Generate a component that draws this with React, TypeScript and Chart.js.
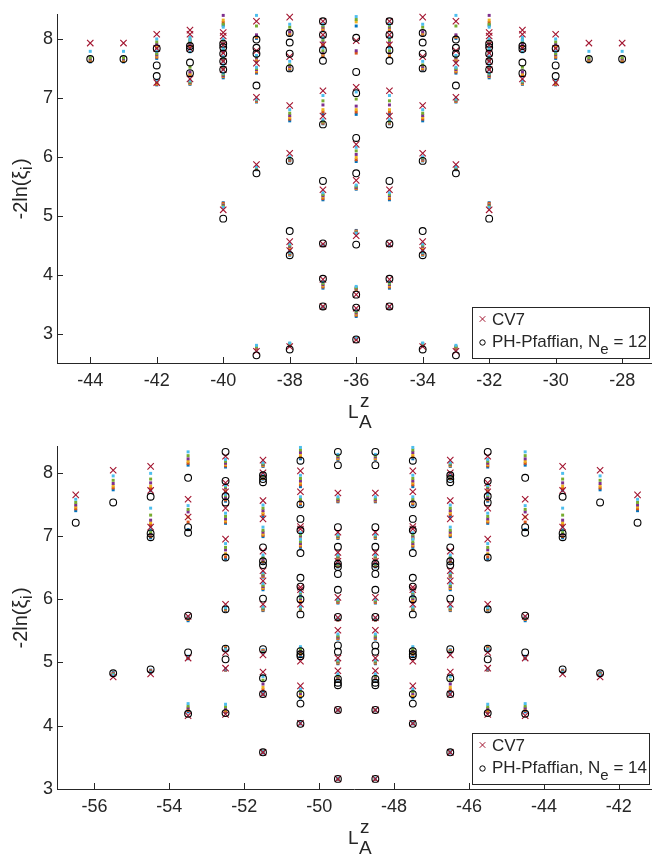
import React, { useEffect, useRef } from 'react';
import { Chart, registerables } from 'chart.js';
Chart.register(...registerables);

const FONT = '"Liberation Sans", Arial, Helvetica, sans-serif';
const AX = '#262626';

// ---------- top panel (N_e = 12) ----------
const topCols = [-44, -43, -42, -41, -40, -39, -38, -37, -36, -35, -34, -33, -32, -31, -30, -29, -28];
const topXTicks = [-44, -42, -40, -38, -36, -34, -32, -30, -28];
const topYTicks = [3, 4, 5, 6, 7, 8];
const topCV7 = [
  [7.93],
  [7.93],
  [8.08, 7.84, 7.26],
  [8.15, 8.08, 7.84, 7.32],
  [8.11, 8.05, 7.90, 7.76, 7.62, 7.48, 5.10],
  [8.30, 7.80, 7.59, 7.01, 5.87, 2.70],
  [8.37, 7.70, 6.87, 6.06, 4.56, 4.41, 2.78],
  [8.30, 8.07, 7.90, 7.12, 6.69, 5.44, 4.52, 3.92, 3.46],
  [7.97, 7.18, 6.21, 5.60, 4.66, 3.66, 3.43, 2.89],
  [8.30, 8.07, 7.90, 7.12, 6.69, 5.44, 4.52, 3.92, 3.46],
  [8.37, 7.70, 6.87, 6.06, 4.56, 4.41, 2.78],
  [8.30, 7.80, 7.59, 7.01, 5.87, 2.70],
  [8.11, 8.05, 7.90, 7.76, 7.62, 7.48, 5.10],
  [8.15, 8.08, 7.84, 7.32],
  [8.08, 7.84, 7.26],
  [7.93],
  [7.93],
];
const topPH = [
  [7.66],
  [7.66],
  [7.84, 7.55, 7.37],
  [7.88, 7.83, 7.60, 7.42],
  [7.92, 7.86, 7.75, 7.62, 7.48, 4.95],
  [7.99, 7.85, 7.75, 7.21, 5.72, 2.63],
  [8.10, 7.94, 7.75, 7.50, 5.93, 4.74, 4.33, 2.73],
  [8.30, 8.07, 7.81, 7.63, 6.55, 5.59, 4.53, 3.93, 3.46],
  [8.02, 7.44, 7.08, 6.32, 5.72, 4.51, 3.66, 3.44, 2.90],
  [8.30, 8.07, 7.81, 7.63, 6.55, 5.59, 4.53, 3.93, 3.46],
  [8.10, 7.94, 7.75, 7.50, 5.93, 4.74, 4.33, 2.73],
  [7.99, 7.85, 7.75, 7.21, 5.72, 2.63],
  [7.92, 7.86, 7.75, 7.62, 7.48, 4.95],
  [7.88, 7.83, 7.60, 7.42],
  [7.84, 7.55, 7.37],
  [7.66],
  [7.66],
];
const topCyan = [
  [7.79],
  [7.79],
  [8.00, 7.79, 7.30],
  [8.03, 7.98, 7.78, 7.29],
  [8.20, 8.00, 7.84, 7.70, 7.56, 7.42, 5.14],
  [8.40, 7.72, 7.52, 6.98, 5.83, 2.80],
  [8.25, 7.62, 6.80, 6.00, 4.52, 4.38, 2.84],
  [8.25, 8.02, 7.85, 7.04, 6.63, 5.39, 4.51, 3.88, 3.45],
  [8.38, 7.10, 6.16, 5.52, 4.70, 3.80, 3.40, 2.92],
  [8.25, 8.02, 7.85, 7.04, 6.63, 5.39, 4.51, 3.88, 3.45],
  [8.25, 7.62, 6.80, 6.00, 4.52, 4.38, 2.84],
  [8.40, 7.72, 7.52, 6.98, 5.83, 2.80],
  [8.20, 8.00, 7.84, 7.70, 7.56, 7.42, 5.14],
  [8.03, 7.98, 7.78, 7.29],
  [8.00, 7.79, 7.30],
  [7.79],
  [7.79],
];
const topGreen = [
  [7.68],
  [7.68],
  [7.95, 7.75, 7.28],
  [8.00, 7.95, 7.52, 7.27],
  [8.25, 7.98, 7.82, 7.68, 7.54, 7.40, 5.16],
  [8.22, 7.70, 7.50, 6.97, 5.82, 2.78],
  [8.20, 7.56, 6.74, 5.98, 4.50, 4.37, 2.83],
  [8.22, 7.98, 7.80, 6.95, 6.60, 5.36, 4.51, 3.85, 3.45],
  [8.33, 6.98, 6.10, 5.50, 4.71, 3.78, 3.37, 2.92],
  [8.22, 7.98, 7.80, 6.95, 6.60, 5.36, 4.51, 3.85, 3.45],
  [8.20, 7.56, 6.74, 5.98, 4.50, 4.37, 2.83],
  [8.22, 7.70, 7.50, 6.97, 5.82, 2.78],
  [8.25, 7.98, 7.82, 7.68, 7.54, 7.40, 5.16],
  [8.00, 7.95, 7.52, 7.27],
  [7.95, 7.75, 7.28],
  [7.68],
  [7.68],
];
const topPurple = [
  [7.66],
  [7.66],
  [7.91, 7.73, 7.27],
  [7.97, 7.92, 7.44, 7.26],
  [8.40, 7.96, 7.80, 7.66, 7.52, 7.38, 5.18],
  [8.07, 7.68, 7.48, 6.96, 5.81, 2.77],
  [8.12, 7.53, 6.70, 5.96, 4.48, 4.36, 2.82],
  [8.20, 7.95, 7.76, 6.88, 6.59, 5.34, 4.50, 3.83, 3.44],
  [7.80, 6.86, 6.04, 5.48, 4.72, 3.77, 3.35, 2.92],
  [8.20, 7.95, 7.76, 6.88, 6.59, 5.34, 4.50, 3.83, 3.44],
  [8.12, 7.53, 6.70, 5.96, 4.48, 4.36, 2.82],
  [8.07, 7.68, 7.48, 6.96, 5.81, 2.77],
  [8.40, 7.96, 7.80, 7.66, 7.52, 7.38, 5.18],
  [7.97, 7.92, 7.44, 7.26],
  [7.91, 7.73, 7.27],
  [7.66],
  [7.66],
];
const topYellow = [
  [7.64],
  [7.64],
  [7.88, 7.71, 7.25],
  [7.95, 7.90, 7.41, 7.25],
  [8.32, 7.95, 7.79, 7.65, 7.51, 7.37, 5.19],
  [8.05, 7.66, 7.46, 6.95, 5.80, 2.76],
  [8.10, 7.51, 6.67, 5.95, 4.46, 4.35, 2.81],
  [8.18, 7.92, 7.74, 6.80, 6.58, 5.32, 4.50, 3.81, 3.44],
  [8.29, 6.80, 5.99, 5.47, 4.73, 3.76, 3.33, 2.91],
  [8.18, 7.92, 7.74, 6.80, 6.58, 5.32, 4.50, 3.81, 3.44],
  [8.10, 7.51, 6.67, 5.95, 4.46, 4.35, 2.81],
  [8.05, 7.66, 7.46, 6.95, 5.80, 2.76],
  [8.32, 7.95, 7.79, 7.65, 7.51, 7.37, 5.19],
  [7.95, 7.90, 7.41, 7.25],
  [7.88, 7.71, 7.25],
  [7.64],
  [7.64],
];
const topOrange = [
  [7.62],
  [7.62],
  [7.86, 7.69, 7.23],
  [7.93, 7.88, 7.39, 7.24],
  [8.28, 7.94, 7.78, 7.64, 7.50, 7.36, 5.21],
  [8.03, 7.64, 7.44, 6.94, 5.79, 2.75],
  [8.08, 7.49, 6.64, 5.94, 4.44, 4.34, 2.80],
  [8.16, 7.90, 7.72, 6.76, 6.57, 5.29, 4.49, 3.79, 3.43],
  [7.76, 6.76, 5.95, 5.46, 4.74, 3.75, 3.31, 2.91],
  [8.16, 7.90, 7.72, 6.76, 6.57, 5.29, 4.49, 3.79, 3.43],
  [8.08, 7.49, 6.64, 5.94, 4.44, 4.34, 2.80],
  [8.03, 7.64, 7.44, 6.94, 5.79, 2.75],
  [8.28, 7.94, 7.78, 7.64, 7.50, 7.36, 5.21],
  [7.93, 7.88, 7.39, 7.24],
  [7.86, 7.69, 7.23],
  [7.62],
  [7.62],
];
const topBlue = [
  [7.61],
  [7.61],
  [7.85, 7.67, 7.22],
  [7.91, 7.86, 7.37, 7.23],
  [8.23, 7.93, 7.77, 7.63, 7.49, 7.34, 5.22],
  [8.01, 7.62, 7.42, 6.93, 5.78, 2.74],
  [8.06, 7.47, 6.61, 5.93, 4.42, 4.33, 2.79],
  [8.14, 7.88, 7.70, 6.73, 6.56, 5.27, 4.49, 3.77, 3.43],
  [8.22, 6.72, 5.92, 5.45, 4.75, 3.74, 3.29, 2.91],
  [8.14, 7.88, 7.70, 6.73, 6.56, 5.27, 4.49, 3.77, 3.43],
  [8.06, 7.47, 6.61, 5.93, 4.42, 4.33, 2.79],
  [8.01, 7.62, 7.42, 6.93, 5.78, 2.74],
  [8.23, 7.93, 7.77, 7.63, 7.49, 7.34, 5.22],
  [7.91, 7.86, 7.37, 7.23],
  [7.85, 7.67, 7.22],
  [7.61],
  [7.61],
];

// ---------- bottom panel (N_e = 14) ----------
const botCols = [-56.5, -55.5, -54.5, -53.5, -52.5, -51.5, -50.5, -49.5, -48.5, -47.5, -46.5, -45.5, -44.5, -43.5, -42.5, -41.5];
const botXTicks = [-56, -54, -52, -50, -48, -46, -44, -42];
const botYTicks = [3, 4, 5, 6, 7, 8];
const botCV7 = [
  [7.65],
  [8.04, 4.77],
  [8.10, 7.72, 7.14, 4.82],
  [7.58, 7.30, 5.73, 5.07, 4.16],
  [8.26, 7.84, 7.70, 7.44, 6.95, 5.92, 5.16, 4.91, 4.18],
  [8.20, 8.00, 7.56, 7.27, 6.76, 6.45, 6.29, 5.92, 5.12, 4.85, 4.50, 3.58],
  [8.03, 7.70, 7.15, 7.11, 6.19, 6.15, 5.92, 5.02, 4.63, 4.04],
  [7.68, 7.06, 6.74, 6.60, 6.03, 5.71, 5.51, 5.07, 4.87, 4.25, 3.16],
  [7.68, 7.06, 6.74, 6.60, 6.03, 5.71, 5.51, 5.07, 4.87, 4.25, 3.16],
  [8.03, 7.70, 7.15, 7.11, 6.19, 6.15, 5.92, 5.02, 4.63, 4.04],
  [8.20, 8.00, 7.56, 7.27, 6.76, 6.45, 6.29, 5.92, 5.12, 4.85, 4.50, 3.58],
  [8.26, 7.84, 7.70, 7.44, 6.95, 5.92, 5.16, 4.91, 4.18],
  [7.58, 7.30, 5.73, 5.07, 4.16],
  [8.10, 7.72, 7.14, 4.82],
  [8.04, 4.77],
  [7.65],
];
const botPH = [
  [7.21],
  [7.53, 4.83],
  [7.62, 7.04, 6.98, 4.89],
  [7.92, 7.14, 7.05, 5.74, 5.16, 4.19],
  [8.33, 7.87, 7.63, 7.53, 6.66, 5.84, 5.22, 5.05, 4.20],
  [7.96, 7.90, 7.85, 6.82, 6.60, 6.54, 6.01, 5.21, 4.75, 4.50, 3.58],
  [8.19, 7.50, 7.27, 7.09, 6.73, 6.34, 6.20, 6.00, 5.76, 5.18, 5.13, 5.10, 4.50, 4.35, 4.03],
  [8.33, 8.12, 7.14, 6.83, 6.56, 6.51, 6.40, 6.15, 5.72, 5.27, 5.17, 4.74, 4.68, 4.64, 4.25, 3.16],
  [8.33, 8.12, 7.14, 6.83, 6.56, 6.51, 6.40, 6.15, 5.72, 5.27, 5.17, 4.74, 4.68, 4.64, 4.25, 3.16],
  [8.19, 7.50, 7.27, 7.09, 6.73, 6.34, 6.20, 6.00, 5.76, 5.18, 5.13, 5.10, 4.50, 4.35, 4.03],
  [7.96, 7.90, 7.85, 6.82, 6.60, 6.54, 6.01, 5.21, 4.75, 4.50, 3.58],
  [8.33, 7.87, 7.63, 7.53, 6.66, 5.84, 5.22, 5.05, 4.20],
  [7.92, 7.14, 7.05, 5.74, 5.16, 4.19],
  [7.62, 7.04, 6.98, 4.89],
  [7.53, 4.83],
  [7.21],
];
const botCyan = [
  [7.58],
  [7.95, 4.80],
  [7.99, 7.44, 7.10, 4.84],
  [8.33, 7.48, 5.72, 5.10, 4.35],
  [8.21, 7.80, 7.66, 7.36, 6.88, 5.87, 5.20, 4.90, 4.34],
  [8.16, 7.97, 7.49, 7.14, 6.70, 6.42, 6.25, 5.88, 5.15, 4.78, 4.51, 3.59],
  [8.40, 7.96, 7.62, 7.05, 6.95, 6.12, 6.05, 5.88, 5.25, 4.58, 4.05],
  [8.29, 7.62, 7.02, 6.70, 6.57, 6.00, 5.70, 5.45, 5.04, 4.82, 4.25, 3.17],
  [8.29, 7.62, 7.02, 6.70, 6.57, 6.00, 5.70, 5.45, 5.04, 4.82, 4.25, 3.17],
  [8.40, 7.96, 7.62, 7.05, 6.95, 6.12, 6.05, 5.88, 5.25, 4.58, 4.05],
  [8.16, 7.97, 7.49, 7.14, 6.70, 6.42, 6.25, 5.88, 5.15, 4.78, 4.51, 3.59],
  [8.21, 7.80, 7.66, 7.36, 6.88, 5.87, 5.20, 4.90, 4.34],
  [8.33, 7.48, 5.72, 5.10, 4.35],
  [7.99, 7.44, 7.10, 4.84],
  [7.95, 4.80],
  [7.58],
];
const botGreen = [
  [7.53],
  [7.88, 4.81],
  [7.90, 7.33, 7.06, 4.85],
  [8.27, 7.42, 5.71, 5.09, 4.31],
  [8.18, 7.78, 7.64, 7.31, 6.82, 5.86, 5.21, 4.90, 4.30],
  [8.14, 7.95, 7.44, 7.09, 6.66, 6.40, 6.22, 5.86, 5.16, 4.72, 4.51, 3.59],
  [8.36, 7.91, 7.58, 7.02, 6.91, 6.10, 6.03, 5.86, 5.21, 4.54, 4.05],
  [8.27, 7.59, 7.00, 6.68, 6.55, 5.98, 5.69, 5.42, 5.02, 4.79, 4.25, 3.17],
  [8.27, 7.59, 7.00, 6.68, 6.55, 5.98, 5.69, 5.42, 5.02, 4.79, 4.25, 3.17],
  [8.36, 7.91, 7.58, 7.02, 6.91, 6.10, 6.03, 5.86, 5.21, 4.54, 4.05],
  [8.14, 7.95, 7.44, 7.09, 6.66, 6.40, 6.22, 5.86, 5.16, 4.72, 4.51, 3.59],
  [8.18, 7.78, 7.64, 7.31, 6.82, 5.86, 5.21, 4.90, 4.30],
  [8.27, 7.42, 5.71, 5.09, 4.31],
  [7.90, 7.33, 7.06, 4.85],
  [7.88, 4.81],
  [7.53],
];
const botPurple = [
  [7.49],
  [7.83, 4.82],
  [7.84, 7.25, 7.03, 4.86],
  [8.22, 7.38, 5.70, 5.08, 4.28],
  [8.15, 7.76, 7.61, 7.27, 6.78, 5.85, 5.22, 4.89, 4.27],
  [8.13, 7.93, 7.40, 7.06, 6.63, 6.38, 6.20, 5.85, 5.17, 4.66, 4.50, 3.58],
  [8.32, 7.87, 7.55, 7.00, 6.88, 6.08, 6.01, 5.85, 5.18, 4.51, 4.04],
  [8.25, 7.57, 6.99, 6.67, 6.54, 5.97, 5.68, 5.40, 5.01, 4.77, 4.24, 3.16],
  [8.25, 7.57, 6.99, 6.67, 6.54, 5.97, 5.68, 5.40, 5.01, 4.77, 4.24, 3.16],
  [8.32, 7.87, 7.55, 7.00, 6.88, 6.08, 6.01, 5.85, 5.18, 4.51, 4.04],
  [8.13, 7.93, 7.40, 7.06, 6.63, 6.38, 6.20, 5.85, 5.17, 4.66, 4.50, 3.58],
  [8.15, 7.76, 7.61, 7.27, 6.78, 5.85, 5.22, 4.89, 4.27],
  [8.22, 7.38, 5.70, 5.08, 4.28],
  [7.84, 7.25, 7.03, 4.86],
  [7.83, 4.82],
  [7.49],
];
const botYellow = [
  [7.46],
  [7.79, 4.82],
  [7.79, 7.21, 7.01, 4.86],
  [8.18, 7.30, 5.69, 5.08, 4.26],
  [8.13, 7.74, 7.59, 7.24, 6.72, 5.84, 5.23, 4.89, 4.25],
  [8.12, 7.92, 7.37, 7.03, 6.61, 6.37, 6.18, 5.84, 5.18, 4.61, 4.50, 3.58],
  [8.28, 7.84, 7.53, 6.98, 6.86, 6.07, 5.99, 5.84, 5.15, 4.48, 4.04],
  [8.23, 7.56, 6.98, 6.66, 6.53, 5.96, 5.68, 5.39, 5.00, 4.76, 4.24, 3.16],
  [8.23, 7.56, 6.98, 6.66, 6.53, 5.96, 5.68, 5.39, 5.00, 4.76, 4.24, 3.16],
  [8.28, 7.84, 7.53, 6.98, 6.86, 6.07, 5.99, 5.84, 5.15, 4.48, 4.04],
  [8.12, 7.92, 7.37, 7.03, 6.61, 6.37, 6.18, 5.84, 5.18, 4.61, 4.50, 3.58],
  [8.13, 7.74, 7.59, 7.24, 6.72, 5.84, 5.23, 4.89, 4.25],
  [8.18, 7.30, 5.69, 5.08, 4.26],
  [7.79, 7.21, 7.01, 4.86],
  [7.79, 4.82],
  [7.46],
];
const botOrange = [
  [7.43],
  [7.76, 4.83],
  [7.75, 7.18, 6.99, 4.87],
  [8.15, 7.22, 5.68, 5.07, 4.24],
  [8.11, 7.72, 7.57, 7.22, 6.67, 5.83, 5.24, 4.88, 4.23],
  [8.11, 7.91, 7.34, 7.01, 6.59, 6.36, 6.17, 5.83, 5.19, 4.57, 4.50, 3.58],
  [8.25, 7.81, 7.51, 6.97, 6.84, 6.06, 5.97, 5.83, 5.13, 4.46, 4.04],
  [8.22, 7.55, 6.97, 6.65, 6.52, 5.95, 5.67, 5.38, 4.99, 4.75, 4.24, 3.16],
  [8.22, 7.55, 6.97, 6.65, 6.52, 5.95, 5.67, 5.38, 4.99, 4.75, 4.24, 3.16],
  [8.25, 7.81, 7.51, 6.97, 6.84, 6.06, 5.97, 5.83, 5.13, 4.46, 4.04],
  [8.11, 7.91, 7.34, 7.01, 6.59, 6.36, 6.17, 5.83, 5.19, 4.57, 4.50, 3.58],
  [8.11, 7.72, 7.57, 7.22, 6.67, 5.83, 5.24, 4.88, 4.23],
  [8.15, 7.22, 5.68, 5.07, 4.24],
  [7.75, 7.18, 6.99, 4.87],
  [7.76, 4.83],
  [7.43],
];
const botBlue = [
  [7.40],
  [7.73, 4.84],
  [7.72, 7.16, 6.97, 4.88],
  [8.12, 7.10, 5.66, 5.06, 4.22],
  [8.09, 7.70, 7.55, 7.20, 6.64, 5.82, 5.25, 4.88, 4.21],
  [8.10, 7.90, 7.31, 6.99, 6.57, 6.35, 6.15, 5.82, 5.20, 4.54, 4.49, 3.57],
  [8.22, 7.78, 7.49, 6.96, 6.82, 6.05, 5.95, 5.82, 5.11, 4.44, 4.03],
  [8.21, 7.54, 6.96, 6.64, 6.51, 5.94, 5.67, 5.37, 4.98, 4.74, 4.24, 3.15],
  [8.21, 7.54, 6.96, 6.64, 6.51, 5.94, 5.67, 5.37, 4.98, 4.74, 4.24, 3.15],
  [8.22, 7.78, 7.49, 6.96, 6.82, 6.05, 5.95, 5.82, 5.11, 4.44, 4.03],
  [8.10, 7.90, 7.31, 6.99, 6.57, 6.35, 6.15, 5.82, 5.20, 4.54, 4.49, 3.57],
  [8.09, 7.70, 7.55, 7.20, 6.64, 5.82, 5.25, 4.88, 4.21],
  [8.12, 7.10, 5.66, 5.06, 4.22],
  [7.72, 7.16, 6.97, 4.88],
  [7.73, 4.84],
  [7.40],
];

type Panel = {
  cols: number[];
  cv7: number[][];
  ph: number[][];
  cyan: number[][];
  green: number[][];
  purple: number[][];
  yellow: number[][];
  orange: number[][];
  blue: number[][];
  xMin: number;
  xMax: number;
  yMin: number;
  yMax: number;
  xTicks: number[];
  yTicks: number[];
  ne: string;
  padTop: number;
  axisH: number;
};

const topPanel: Panel = {
  cols: topCols, cv7: topCV7, ph: topPH,
  cyan: topCyan, green: topGreen, purple: topPurple, yellow: topYellow, orange: topOrange, blue: topBlue,
  xMin: -45, xMax: -27.12, yMin: 2.5, yMax: 8.41,
  xTicks: topXTicks, yTicks: topYTicks, ne: '12', padTop: 7, axisH: 69,
};
const botPanel: Panel = {
  cols: botCols, cv7: botCV7, ph: botPH,
  cyan: botCyan, green: botGreen, purple: botPurple, yellow: botYellow, orange: botOrange, blue: botBlue,
  xMin: -57, xMax: -41.13, yMin: 3, yMax: 8.41,
  xTicks: botXTicks, yTicks: botYTicks, ne: '14', padTop: 1, axisH: 68,
};

function pts(cols: number[], vals: number[][]) {
  const out: { x: number; y: number }[] = [];
  cols.forEach((c, i) => (vals[i] || []).forEach((v) => out.push({ x: c, y: v })));
  return out;
}

function dotSet(label: string, data: any, color: string, order: number) {
  return {
    label,
    data,
    order,
    clip: false,
    pointStyle: 'rect',
    pointRadius: 2.1,
    pointHoverRadius: 2.1,
    pointBorderWidth: 0,
    pointBackgroundColor: color,
    pointBorderColor: color,
    backgroundColor: color,
    borderColor: color,
    borderWidth: 0,
  };
}

function makeChart(canvas: HTMLCanvasElement, p: Panel) {
  const datasets: any[] = [
    {
      label: 'PH-Pfaffian',
      data: pts(p.cols, p.ph),
      order: 1,
      clip: false,
      pointStyle: 'circle',
      pointRadius: 3.4,
      pointHoverRadius: 3.4,
      pointBorderWidth: 1.1,
      pointBorderColor: '#000000',
      pointBackgroundColor: 'rgba(0,0,0,0)',
      borderColor: '#000000',
      backgroundColor: 'rgba(0,0,0,0)',
    },
    {
      label: 'CV7',
      data: pts(p.cols, p.cv7),
      order: 2,
      clip: false,
      pointStyle: 'crossRot',
      pointRadius: 4.5,
      pointHoverRadius: 4.5,
      pointBorderWidth: 1.1,
      pointBorderColor: '#A2142F',
      pointBackgroundColor: '#A2142F',
      borderColor: '#A2142F',
      backgroundColor: '#A2142F',
    },
    dotSet('CV6', pts(p.cols, p.cyan), '#4DBEEE', 3),
    dotSet('CV5', pts(p.cols, p.green), '#77AC30', 4),
    dotSet('CV4', pts(p.cols, p.purple), '#7E2F8E', 5),
    dotSet('CV3', pts(p.cols, p.yellow), '#EDB120', 6),
    dotSet('CV2', pts(p.cols, p.orange), '#D95319', 7),
    dotSet('CV1', pts(p.cols, p.blue), '#0072BD', 8),
  ];

  const deco = {
    id: 'deco',
    afterDraw(chart: any) {
      const { ctx, chartArea: a, scales } = chart;
      const x = scales.x;
      const y = scales.y;
      ctx.save();
      // inward tick marks
      ctx.strokeStyle = AX;
      ctx.lineWidth = 1;
      ctx.beginPath();
      for (const t of p.xTicks) {
        const px = Math.round(x.getPixelForValue(t)) + 0.5;
        ctx.moveTo(px, a.bottom);
        ctx.lineTo(px, a.bottom - 6);
      }
      for (const t of p.yTicks) {
        const py = Math.round(y.getPixelForValue(t)) + 0.5;
        ctx.moveTo(a.left, py);
        ctx.lineTo(a.left + 6, py);
      }
      ctx.stroke();

      // x title  L_A^z
      ctx.fillStyle = AX;
      ctx.textAlign = 'left';
      ctx.textBaseline = 'alphabetic';
      ctx.font = `19px ${FONT}`;
      const lx = a.left + 291;
      ctx.fillText('L', lx, a.bottom + 54.5);
      const lw = ctx.measureText('L').width;
      ctx.fillText('z', lx + lw + 1.5, a.bottom + 44);
      ctx.fillText('A', lx + lw + 0.5, a.bottom + 64.5);

      // y title  -2ln(xi_i)
      const cy = (a.top + a.bottom) / 2;
      ctx.save();
      ctx.translate(27, cy);
      ctx.rotate(-Math.PI / 2);
      ctx.font = `20px ${FONT}`;
      const s1 = '-2ln(\u03BE';
      const w1 = ctx.measureText(s1).width;
      ctx.font = `16px ${FONT}`;
      const w2 = ctx.measureText('i').width;
      ctx.font = `20px ${FONT}`;
      const w3 = ctx.measureText(')').width;
      let tx = -(w1 + w2 + w3 + 2) / 2;
      ctx.fillText(s1, tx, 0);
      tx += w1 + 0.5;
      ctx.font = `16px ${FONT}`;
      ctx.fillText('i', tx, 5);
      tx += w2 + 1.5;
      ctx.font = `20px ${FONT}`;
      ctx.fillText(')', tx, 0);
      ctx.restore();

      // legend
      const bx = Math.round(a.right - 179) + 0.5;
      const bb = Math.round(a.bottom - 5) + 0.5;
      const bw = 177;
      const bh = 51;
      const bt = bb - bh;
      ctx.fillStyle = '#ffffff';
      ctx.fillRect(bx, bt, bw, bh);
      ctx.strokeStyle = AX;
      ctx.lineWidth = 1;
      ctx.strokeRect(bx, bt, bw, bh);
      // cross marker
      const mx = bx + 10;
      const m1 = bt + 11.5;
      ctx.strokeStyle = '#A2142F';
      ctx.beginPath();
      ctx.moveTo(mx - 2.8, m1 - 2.8);
      ctx.lineTo(mx + 2.8, m1 + 2.8);
      ctx.moveTo(mx + 2.8, m1 - 2.8);
      ctx.lineTo(mx - 2.8, m1 + 2.8);
      ctx.stroke();
      // circle marker
      const m2 = bt + 35;
      ctx.strokeStyle = '#000000';
      ctx.beginPath();
      ctx.arc(mx, m2, 2.7, 0, Math.PI * 2);
      ctx.stroke();
      // texts
      ctx.fillStyle = AX;
      ctx.font = `17px ${FONT}`;
      const tx0 = bx + 19.5;
      ctx.fillText('CV7', tx0, bt + 17.5);
      const l2 = 'PH-Pfaffian, N';
      ctx.fillText(l2, tx0, bt + 39);
      const wl2 = ctx.measureText(l2).width;
      ctx.font = `15px ${FONT}`;
      ctx.fillText('e', tx0 + wl2, bt + 46.5);
      const we = ctx.measureText('e').width;
      ctx.font = `17px ${FONT}`;
      ctx.fillText(' = ' + p.ne, tx0 + wl2 + we, bt + 39);
      ctx.restore();
    },
  };

  return new Chart(canvas, {
    type: 'scatter',
    data: { datasets },
    options: {
      animation: false,
      responsive: false,
      maintainAspectRatio: false,
      events: [],
      layout: { padding: { top: p.padTop, left: 0, right: 0, bottom: 0 } },
      plugins: { legend: { display: false }, tooltip: { enabled: false } },
      scales: {
        x: {
          type: 'linear',
          min: p.xMin,
          max: p.xMax,
          afterBuildTicks: (s: any) => {
            s.ticks = p.xTicks.map((v) => ({ value: v }));
          },
          afterFit: (s: any) => {
            s.height = p.axisH;
          },
          grid: { display: false, drawTicks: false },
          border: { display: true, color: AX, width: 1 },
          ticks: {
            font: { family: FONT, size: 18 },
            color: AX,
            padding: 7,
            maxRotation: 0,
            autoSkip: false,
          },
        },
        y: {
          type: 'linear',
          min: p.yMin,
          max: p.yMax,
          afterBuildTicks: (s: any) => {
            s.ticks = p.yTicks.map((v) => ({ value: v }));
          },
          afterFit: (s: any) => {
            s.width = 57;
          },
          grid: { display: false, drawTicks: false },
          border: { display: true, color: AX, width: 1 },
          ticks: {
            font: { family: FONT, size: 18 },
            color: AX,
            padding: 4,
            autoSkip: false,
          },
        },
      },
    },
    plugins: [deco],
  } as any);
}

function PanelChart({ panel, top, height }: { panel: Panel; top: number; height: number }) {
  const ref = useRef<HTMLCanvasElement | null>(null);
  useEffect(() => {
    if (!ref.current) return;
    const chart = makeChart(ref.current, panel);
    return () => chart.destroy();
  }, [panel]);
  return (
    <canvas
      ref={ref}
      width={657}
      height={height}
      style={{ position: 'absolute', left: 0, top, width: 657, height, display: 'block' }}
    />
  );
}

export default function App() {
  return (
    <div style={{ position: 'absolute', left: 0, top: 0, width: 657, height: 857, background: '#ffffff', overflow: 'hidden' }}>
      <PanelChart panel={topPanel} top={0} height={432} />
      <PanelChart panel={botPanel} top={432} height={425} />
    </div>
  );
}
